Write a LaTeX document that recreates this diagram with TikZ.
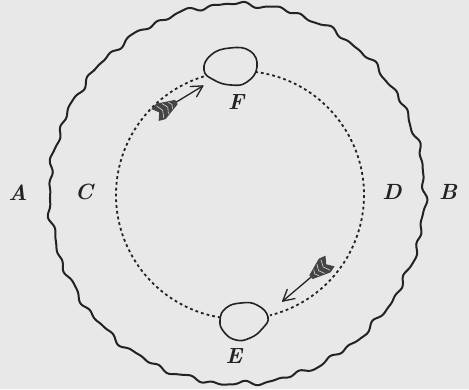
\documentclass[tikz,border=0pt]{standalone}
\usetikzlibrary{calc}
\definecolor{bgc}{RGB}{232,232,232}
\definecolor{ink}{RGB}{35,35,35}
\tikzset{
  lbl/.style={font=\fontsize{22}{26}\selectfont\bfseries\itshape, text=ink, inner sep=0pt},
  orbit/.style={draw=ink, line width=1.8pt, dash pattern=on 2.8pt off 3pt},
  ring/.style={draw=ink, line width=2pt, line join=round},
  egg/.style={draw=ink, line width=1.6pt},
  shaft/.style={draw=ink, line width=1.3pt, line cap=round, line join=round},
}
\newcommand{\myarrow}[1]{%
  \draw[shaft] (16,0) -- (#1,0);
  \draw[shaft] ($(#1,0)+(-11,-6)$) -- (#1,0) -- ($(#1,0)+(-11,6)$);
  \fill[ink!85] (0,-7) -- (7,-9) -- (25,-2.5) -- (25,2.5) -- (7,9) -- (0,7) -- (5,0) -- cycle;
  \draw[white!80!gray, line width=0.55pt] (6,-7) -- (9,0) -- (6,7) (12,-6) -- (15,0) -- (12,6) (18,-4) -- (20,0) -- (18,4);
}
\begin{document}
\begin{tikzpicture}[x=1pt,y=-1pt,
  declare function={wob(\k)=1.4*sin(24*mod(\k,15))+1.2*sin(13.8*\k+30)+0.7*sin(39*mod(\k,120)+10);}]
\fill[bgc] (0,0) rectangle (469,389);
\useasboundingbox (0,0) rectangle (469,389);
% outer wavy circle
\draw[ring] plot[domain=0:599, samples=600, variable=\k]
  ({237+(187.5+wob(\k))*cos(0.6*\k)}, {194+(190+wob(\k))*sin(0.6*\k)}) -- cycle;
% dotted orbit
\coordinate (O) at (240,195);
\draw[orbit] ($(O)+(277:124)$) arc[start angle=277, end angle=436, radius=124];
\draw[orbit] ($(O)+(99:124)$) arc[start angle=99, end angle=253, radius=124];
% F oval
\draw[egg] plot[smooth cycle, tension=0.8] coordinates {(204,70) (211,55) (230,48) (250,51) (257,67) (247,82) (231,85) (214,80)};
% E oval
\draw[egg] plot[smooth cycle, tension=0.8] coordinates {(220,320) (226,308) (241,303) (257,305) (268,317) (262,329) (250,338) (236,340) (224,332)};
% arrows
\begin{scope}[shift={(155,115)}, rotate=31.3]
  \myarrow{56}
\end{scope}
\begin{scope}[shift={(330,261)}, rotate=-139.7]
  \myarrow{62}
\end{scope}
% labels
\node[lbl] (A) at (18,193) {A};
\node[lbl] (C) at (84,192) {C};
\node[lbl] (D) at (392,192) {D};
\node[lbl] (B) at (448,192) {B};
\node[lbl] (F) at (236,102) {F};
\node[lbl] (E) at (234,356) {E};
\end{tikzpicture}
\end{document}
